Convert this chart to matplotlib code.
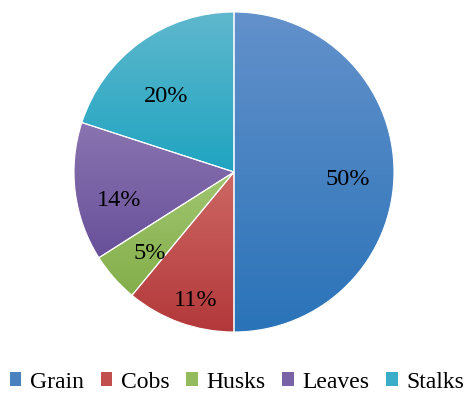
import numpy as np
import matplotlib
matplotlib.use('Agg')
import matplotlib.pyplot as plt
from matplotlib.colors import LinearSegmentedColormap
from matplotlib.patches import Patch

plt.rcParams['font.family'] = ['Liberation Serif', 'DejaVu Serif']

# data
parts = ['Grain', 'Cobs', 'Husks', 'Leaves', 'Stalks']
shares = [50, 11, 5, 14, 20]

# colours (top / bottom of each wedge's gradient)
top_colors = ['#6391cb', '#cd6864', '#a0c670', '#8a74b0', '#5fb8cd']
bottom_colors = ['#2a73b8', '#b3383a', '#84ae4a', '#68509a', '#1fa4c1']
mid_colors = ['#4a82c0', '#c24f4d', '#93bb5d', '#7a62a6', '#3aaec8']
# label placement: radius fraction and angle nudge (deg) from wedge middle
label_dist = [0.714, 0.835, 0.729, 0.74, 0.633]
label_turn = [-4.0, 3.3, 2.6, 6.5, 6.2]

fig = plt.figure(figsize=(4.66, 3.94), dpi=100)
ax = fig.add_axes([74 / 466, 62 / 394, 320 / 466, 320 / 394])

wedges, _ = ax.pie(shares, startangle=90, counterclock=False, radius=1,
                   colors=mid_colors,
                   wedgeprops=dict(edgecolor='white', linewidth=0.8))

for w, c1, c2 in zip(wedges, top_colors, bottom_colors):
    verts = w.get_path().vertices
    x0, x1 = verts[:, 0].min(), verts[:, 0].max()
    y0, y1 = verts[:, 1].min(), verts[:, 1].max()
    cmap = LinearSegmentedColormap.from_list('g', [c2, c1])
    grad = np.linspace(0, 1, 256).reshape(-1, 1)
    im = ax.imshow(grad, cmap=cmap, origin='lower', aspect='auto',
                   extent=[x0, x1, y0, y1], zorder=w.get_zorder() - 0.1)
    im.set_clip_path(w)
    w.set_facecolor('none')

for w, s, d, t in zip(wedges, shares, label_dist, label_turn):
    ang = np.deg2rad((w.theta1 + w.theta2) / 2 + t)
    ax.text(d * np.cos(ang), d * np.sin(ang), f'{s}%',
            ha='center', va='center', fontsize=17.5, color='black')

ax.set_xlim(-1, 1)
ax.set_ylim(-1, 1)
ax.set_aspect('equal')
ax.axis('off')

handles = [Patch(facecolor=c, edgecolor='none') for c in mid_colors]
fig.legend(handles, parts, loc='center', bbox_to_anchor=(237 / 466, 12 / 394),
           ncol=5, frameon=False, fontsize=17, handlelength=0.5,
           handleheight=0.5, handletextpad=0.35, columnspacing=0.72,
           borderaxespad=0, borderpad=0)

fig.savefig('out.png', dpi=100)
